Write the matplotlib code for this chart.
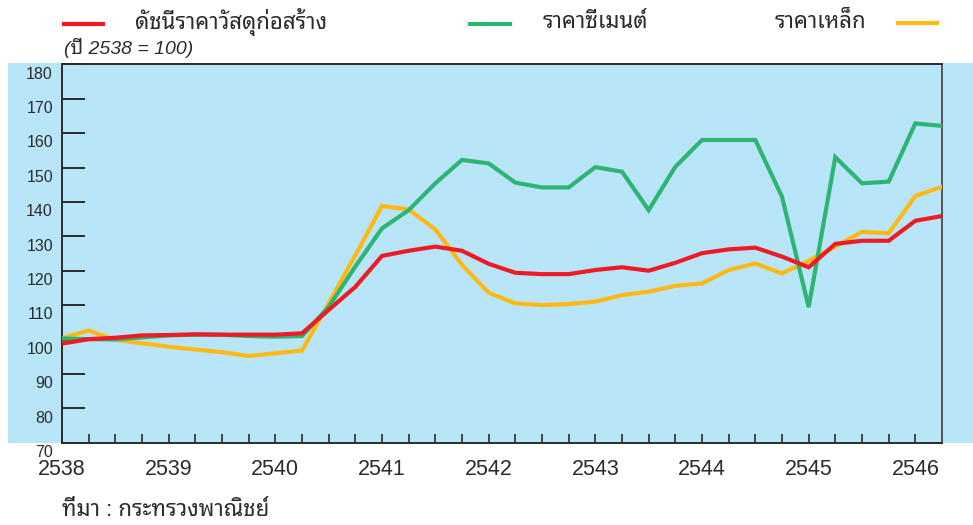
import numpy as np
import matplotlib
matplotlib.use("Agg")
import matplotlib.pyplot as plt
from matplotlib.patches import Rectangle
from matplotlib.transforms import ScaledTranslation

# quarterly index, base year 2538 = 100
quarters = 2538 + 0.25 * np.arange(34)
construction = [98.8, 100.1, 100.5, 101.2, 101.3, 101.5, 101.4, 101.4, 101.4, 101.8,
                108.6, 115.3, 124.3, 125.8, 127.0, 125.8, 122.0, 119.4, 119.0, 119.0,
                120.2, 121.0, 120.0, 122.3, 125.1, 126.2, 126.7, 124.1, 121.0, 127.8,
                128.7, 128.7, 134.5, 135.9]
cement = [100.3, 100.1, 100.0, 100.6, 101.2, 101.4, 101.4, 101.0, 100.8, 101.0,
          109.5, 121.2, 132.3, 137.6, 145.4, 152.2, 151.2, 145.6, 144.2, 144.2,
          150.1, 148.8, 137.6, 150.2, 158.0, 158.0, 158.0, 141.5, 109.4, 153.0,
          145.4, 145.9, 162.8, 162.1]
steel = [100.4, 102.6, 99.9, 98.9, 97.9, 97.1, 96.3, 95.2, 96.0, 96.8,
         110.5, 124.5, 138.8, 137.8, 132.0, 121.7, 113.6, 110.5, 110.0, 110.3,
         111.0, 112.9, 113.9, 115.6, 116.3, 120.2, 122.1, 119.2, 122.9, 127.0,
         131.3, 130.9, 141.7, 144.4]
years = [2538, 2539, 2540, 2541, 2542, 2543, 2544, 2545, 2546]
yticks = list(range(70, 190, 10))

names = ["ดัชนีราคาวัสดุก่อสร้าง", "ราคาซีเมนต์", "ราคาเหล็ก"]
RED, GREEN, YELLOW = "#ED1C24", "#2CB573", "#FFB914"
BLUE = "#B9E5F9"
INK = "#2b2b2b"

fonts = ["Liberation Sans", "Noto Sans Thai Looped", "DejaVu Sans"]
plt.rcParams["font.family"] = fonts

fig = plt.figure(figsize=(9.73, 5.25), dpi=100)
W, H = 973, 525

# blue panel behind the plot, running out to the right edge
fig.add_artist(Rectangle((8 / W, 1 - 443 / H), 1, (443 - 62.5) / H,
                         transform=fig.transFigure, facecolor=BLUE,
                         edgecolor="none", zorder=-10))

ax = fig.add_axes([62 / W, 1 - 442.7 / H, (942 - 62) / W, (442.7 - 64.3) / H])
ax.set_facecolor(BLUE)

ax.plot(quarters, steel, color=YELLOW, lw=3, solid_joinstyle="miter", zorder=3)
ax.plot(quarters, cement, color=GREEN, lw=3, solid_joinstyle="miter", zorder=4)
ax.plot(quarters, construction, color=RED, lw=3, solid_joinstyle="miter", zorder=5)

ax.set_xlim(2538, 2546.25)
ax.set_ylim(70, 180)
ax.set_xticks(years)
ax.set_xticklabels([str(y) for y in years])
ax.set_xticks(quarters, minor=True)
ax.set_yticks(yticks)
ax.set_yticklabels([str(v) for v in yticks])

ax.tick_params(axis="y", direction="in", length=16.5, width=1.4, color=INK,
               labelsize=11.5, labelcolor=INK, pad=6.5)
ax.tick_params(axis="x", which="both", direction="in", length=6.5, width=1.2,
               color=INK, labelsize=15.5, labelcolor=INK, pad=12)
for lab in ax.get_yticklabels():
    lab.set_transform(lab.get_transform() + ScaledTranslation(0, -6 / 72, fig.dpi_scale_trans))

for s in ax.spines.values():
    s.set_color(INK)
    s.set_linewidth(1.4)
ax.spines["right"].set_color("#555555")

# legend drawn by hand above the axes
def leg_line(x0, x1, y, c):
    fig.add_artist(plt.Line2D([x0 / W, x1 / W], [1 - y / H, 1 - y / H],
                              transform=fig.transFigure, color=c, lw=3))

leg_line(64, 103, 24, RED)
fig.text(135 / W, 1 - 22 / H, names[0], fontsize=16, color=INK, va="center")
leg_line(470, 510, 24, GREEN)
fig.text(543 / W, 1 - 22 / H, names[1], fontsize=16, color=INK, va="center")
fig.text(775 / W, 1 - 22 / H, names[2], fontsize=16, color=INK, va="center")
leg_line(898, 937, 22.5, YELLOW)

fig.text(64 / W, 1 - 48 / H, "(ปี 2538 = 100)", fontsize=14, style="italic",
         color=INK, va="center")
fig.text(62 / W, 1 - 510 / H, "ที่มา : กระทรวงพาณิชย์", fontsize=16, color=INK,
         va="center")

fig.savefig("out.png", dpi=100)
